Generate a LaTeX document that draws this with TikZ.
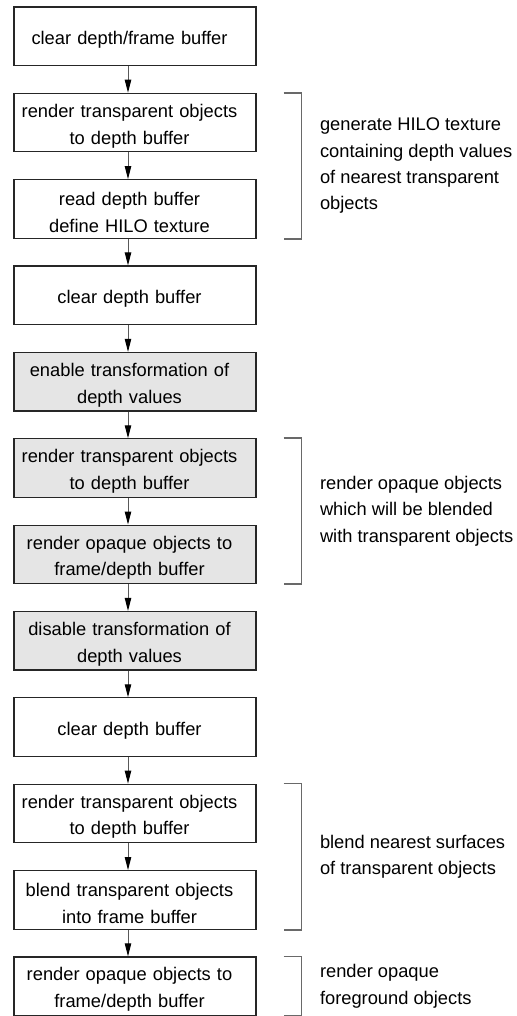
\documentclass[tikz,border=0pt]{standalone}
\usepackage{fontspec}
\setmainfont{Liberation Sans}
\usetikzlibrary{arrows.meta}
\definecolor{boxgray}{RGB}{229,229,229}
\definecolor{linegray}{RGB}{105,105,105}

\tikzset{
  stage/.style={draw=black!85, line width=0.6pt, inner sep=0pt,
    minimum height=29.25pt, text width=121pt, align=center,
    font=\fontsize{9.15}{13.35}\selectfont,
    execute at begin node={\leftskip=0pt plus 1fil\rightskip=5.5pt plus 1fil\parfillskip=0pt\rule{0pt}{10pt}}},
  shaded/.style={stage, fill=boxgray},
  flow/.style={draw=black!65, line width=0.5pt,
    -{Triangle[length=6.5pt,width=3.2pt,color=black]}},
  bracket/.style={draw=linegray, line width=0.8pt},
  note/.style={anchor=west, inner sep=0pt, align=left,
    font=\fontsize{9.15}{13.2}\selectfont}
}

\begin{document}
\begin{tikzpicture}[x=0.5pt,y=-0.5pt]
\useasboundingbox (0,0) rectangle (516,1016);
\coordinate (axis) at (128,0);

\node[stage]  (clearAll)  at (135,36.25) {clear depth/frame buffer};
\node[stage]  (renderTA)  at (135,122.6) {render transparent objects\\to depth buffer};
\node[stage]  (readDepth) at (135,209.0) {read depth buffer\\define HILO texture};
\node[stage]  (clearDA)   at (135,295.3) {clear depth buffer};
\node[shaded] (enableT)   at (135,381.7) {enable transformation of\\depth values};
\node[shaded] (renderTB)  at (135,468.1) {render transparent objects\\to depth buffer};
\node[shaded] (renderOA)  at (135,554.4) {render opaque objects to\\frame/depth buffer};
\node[shaded] (disableT)  at (135,640.8) {disable transformation of\\depth values};
\node[stage]  (clearDB)   at (135,727.1) {clear depth buffer};
\node[stage]  (renderTC)  at (135,813.5) {render transparent objects\\to depth buffer};
\node[stage]  (blendT)    at (135,899.9) {blend transparent objects\\into frame buffer};
\node[stage]  (renderOB)  at (135,986.2) {render opaque objects to\\frame/depth buffer};

\draw[flow] (clearAll.south -| axis)  -- (renderTA.north -| axis);
\draw[flow] (renderTA.south -| axis)  -- (readDepth.north -| axis);
\draw[flow] (readDepth.south -| axis) -- (clearDA.north -| axis);
\draw[flow] (clearDA.south -| axis)   -- (enableT.north -| axis);
\draw[flow] (enableT.south -| axis)   -- (renderTB.north -| axis);
\draw[flow] (renderTB.south -| axis)  -- (renderOA.north -| axis);
\draw[flow] (renderOA.south -| axis)  -- (disableT.north -| axis);
\draw[flow] (disableT.south -| axis)  -- (clearDB.north -| axis);
\draw[flow] (clearDB.south -| axis)   -- (renderTC.north -| axis);
\draw[flow] (renderTC.south -| axis)  -- (blendT.north -| axis);
\draw[flow] (blendT.south -| axis)    -- (renderOB.north -| axis);

% brackets
\draw[bracket] ([xshift=13.5pt]renderTA.north east) -- ([xshift=22.5pt]renderTA.north east)
  -- ([xshift=22.5pt]readDepth.south east) -- ([xshift=13.5pt]readDepth.south east);
\draw[bracket] ([xshift=13.5pt]renderTB.north east) -- ([xshift=22.5pt]renderTB.north east)
  -- ([xshift=22.5pt]renderOA.south east) -- ([xshift=13.5pt]renderOA.south east);
\draw[bracket] ([xshift=13.5pt]renderTC.north east) -- ([xshift=22.5pt]renderTC.north east)
  -- ([xshift=22.5pt]blendT.south east) -- ([xshift=13.5pt]blendT.south east);
\draw[bracket] ([xshift=13.5pt]renderOB.north east) -- ([xshift=22.5pt]renderOB.north east)
  -- ([xshift=22.5pt]renderOB.south east) -- ([xshift=13.5pt]renderOB.south east);

\path (renderTA.north east) -- (readDepth.south east) coordinate[midway] (midHilo);
\path (renderTB.north east) -- (renderOA.south east) coordinate[midway] (midOpaque);
\path (renderTC.north east) -- (blendT.south east) coordinate[midway] (midBlend);
\path (renderOB.north east) -- (renderOB.south east) coordinate[midway] (midFront);

\node[note] (noteHilo)   at ([xshift=31.5pt]midHilo)   {generate HILO texture\\containing depth values\\of nearest transparent\\objects};
\node[note] (noteOpaque) at ([xshift=31.5pt]midOpaque) {render opaque objects\\which will be blended\\with transparent objects};
\node[note] (noteBlend)  at ([xshift=31.5pt]midBlend)  {blend nearest surfaces\\of transparent objects};
\node[note] (noteFront)  at ([xshift=31.5pt]midFront)  {render opaque\\foreground objects};

\end{tikzpicture}
\end{document}
